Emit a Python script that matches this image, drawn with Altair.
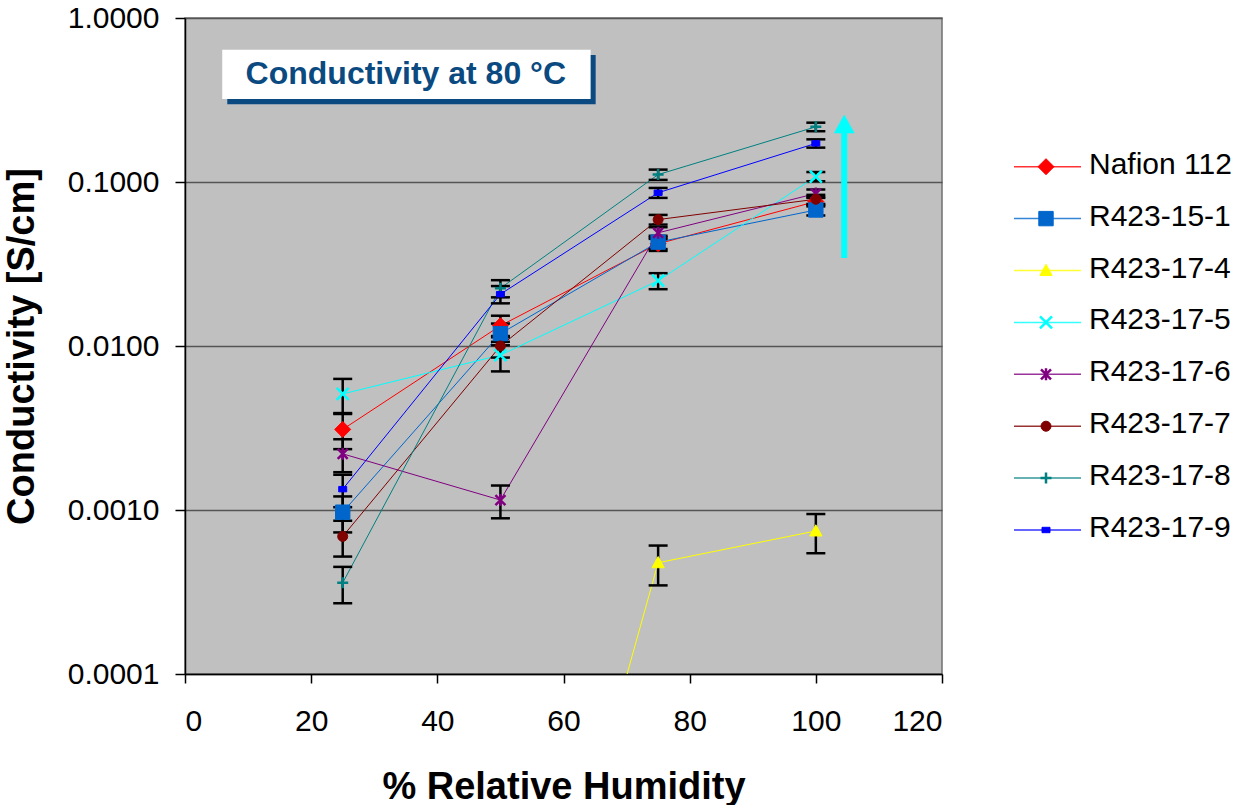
import altair as alt
import pandas as pd

FONT = "Liberation Sans"

# Relative humidity set points (%)
humidity = [25, 50, 75, 100]

series_names = ["Nafion 112", "R423-15-1", "R423-17-4", "R423-17-5",
                "R423-17-6", "R423-17-7", "R423-17-8", "R423-17-9"]
series_colors = ["#FF0000", "#0066CC", "#FFFF00", "#00FFFF",
                 "#800080", "#800000", "#008080", "#0000FF"]

# Conductivity at 80 °C (S/cm), one value per humidity set point
nafion_112 = [0.0031, 0.0133, 0.042, 0.076]
r423_15_1 = [0.00097, 0.0119, 0.043, 0.0675]
r423_17_4 = [None, 1.7e-7, 0.000477, 0.000745]
r423_17_5 = [0.0051, 0.0088, 0.025, 0.108]
r423_17_6 = [0.0022, 0.00115, 0.049, 0.085]
r423_17_7 = [0.00069, 0.0100, 0.059, 0.0785]
r423_17_8 = [0.00036, 0.0225, 0.111, 0.217]
r423_17_9 = [0.00134, 0.0207, 0.086, 0.172]

# Standard deviation of each measurement (S/cm)
err_nafion_112 = [0.00075, 0.0020, 0.0040, 0.0050]
err_r423_15_1 = [0.00024, 0.0018, 0.0040, 0.0050]
err_r423_17_4 = [None, None, 0.00013, 0.00020]
err_r423_17_5 = [0.0012, 0.0018, 0.0028, 0.0070]
err_r423_17_6 = [0.0005, 0.00026, 0.0040, 0.0050]
err_r423_17_7 = [0.00017, 0.0015, 0.0040, 0.0050]
err_r423_17_8 = [0.00009, 0.0027, 0.0080, 0.0130]
err_r423_17_9 = [0.0003, 0.0025, 0.0060, 0.0100]

values = [nafion_112, r423_15_1, r423_17_4, r423_17_5,
          r423_17_6, r423_17_7, r423_17_8, r423_17_9]
errors = [err_nafion_112, err_r423_15_1, err_r423_17_4, err_r423_17_5,
          err_r423_17_6, err_r423_17_7, err_r423_17_8, err_r423_17_9]

# Marker glyphs (unit = 10 px at size 400) and their stroke widths
marker_paths = [
    ("M0,-0.8L0.8,0L0,0.8L-0.8,0Z", 1),
    ("M-0.72,-0.72H0.72V0.72H-0.72Z", 1),
    ("M0,-0.62L0.62,0.5L-0.62,0.5Z", 1),
    ("M-0.6,-0.6L0.6,0.6M-0.6,0.6L0.6,-0.6", 2.5),
    ("M-0.5,-0.5L0.5,0.5M-0.5,0.5L0.5,-0.5M0,-0.6L0,0.6", 2.5),
    ("M-0.5,0A0.5,0.5 0 1,0 0.5,0A0.5,0.5 0 1,0 -0.5,0Z", 1),
    ("M-0.55,0L0.55,0M0,-0.55L0,0.55", 2.5),
    ("M-0.4,-0.27H0.4V0.27H-0.4Z", 1),
]

# Annotation: upward arrow and the boxed heading
arrow_rh = [104.5]
arrow_from = [0.0344]
arrow_base = [0.200]
arrow_tip = [0.256]

heading_text = ["Conductivity at 80 °C"]
heading_rh = [5.9, 64.3, 35.0]          # box left, box right, text centre
heading_cond = [0.64, 0.321, 0.455]     # box top, box bottom, text centre
shadow_rh = [6.7, 65.1]
shadow_cond = [0.595, 0.298]

rows, err_rows = [], []
for name, vals, errs in zip(series_names, values, errors):
    for rh, v, e in zip(humidity, vals, errs):
        if v is None:
            continue
        rows.append({"series": name, "rh": rh, "value": v})
        if e is not None:
            err_rows.append({"series": name, "rh": rh, "lo": v - e, "hi": v + e})
data = pd.DataFrame(rows)
err_data = pd.DataFrame(err_rows)

x_scale = alt.Scale(domain=[0, 120], nice=False)
y_scale = alt.Scale(type="log", domain=[0.0001, 1], nice=False)
color_scale = alt.Scale(domain=series_names, range=series_colors)

x_axis = alt.Axis(
    title="% Relative Humidity", values=[0, 20, 40, 60, 80, 100, 120],
    grid=False, tickSize=9, tickWidth=1.5, tickColor="black",
    domainColor="black", domainWidth=1.5, labelFontSize=30, labelColor="black",
    labelPadding=23, titleFontSize=38, titleFontWeight="bold", titleColor="black",
    titlePadding=32, labelFont=FONT, titleFont=FONT,
)
y_axis = alt.Axis(
    title="Conductivity [S/cm]", values=[0.0001, 0.001, 0.01, 0.1, 1], format=".4f",
    grid=True, gridColor="#555555", gridWidth=1.5, tickSize=10, tickWidth=1.5,
    tickColor="black", domainColor="black", domainWidth=1.5, labelFontSize=30,
    labelColor="black", labelPadding=16, titleFontSize=38, titleFontWeight="bold",
    titleColor="black", titlePadding=26, labelFont=FONT, titleFont=FONT,
)

X = alt.X("rh:Q", scale=x_scale, axis=x_axis)
Y = alt.Y("value:Q", scale=y_scale, axis=y_axis)

lines = alt.Chart(data).mark_line(strokeWidth=1, clip=True).encode(
    x=X, y=Y,
    color=alt.Color("series:N", scale=color_scale, legend=None),
    order="rh:Q",
)

err_rule = alt.Chart(err_data).mark_rule(color="black", strokeWidth=2.5, clip=True).encode(
    x=alt.X("rh:Q", scale=x_scale),
    y=alt.Y("lo:Q", scale=y_scale),
    y2="hi:Q",
)
err_caps = alt.Chart(err_data).transform_fold(["lo", "hi"], as_=["end", "cap"]).mark_tick(
    color="black", thickness=2.5, size=19, orient="horizontal", clip=True, opacity=1
).encode(
    x=alt.X("rh:Q", scale=x_scale),
    y=alt.Y("cap:Q", scale=y_scale),
)

point_layers = []
for name, color, (path, sw) in zip(series_names, series_colors, marker_paths):
    point_layers.append(
        alt.Chart(data).transform_filter(alt.datum.series == name).mark_point(
            shape=path, size=400, filled=True, fill=color, stroke=color,
            strokeWidth=sw, opacity=1, clip=True,
        ).encode(x=X, y=Y)
    )

arrow_df = pd.DataFrame({"rh": arrow_rh, "start": arrow_from, "base": arrow_base, "tip": arrow_tip})
arrow_shaft = alt.Chart(arrow_df).mark_rule(color="#00FFFF", strokeWidth=6).encode(
    x=alt.X("rh:Q", scale=x_scale), y=alt.Y("start:Q", scale=y_scale), y2="base:Q",
)
arrow_head = alt.Chart(arrow_df).mark_point(
    shape="M0,0L1,1.8L-1,1.8Z", size=400, filled=True, fill="#00FFFF", stroke="#00FFFF",
    strokeWidth=0.5, opacity=1,
).encode(x=alt.X("rh:Q", scale=x_scale), y=alt.Y("tip:Q", scale=y_scale))

heading_df = pd.DataFrame({
    "x0": [heading_rh[0]], "x1": [heading_rh[1]], "xc": [heading_rh[2]],
    "y0": [heading_cond[0]], "y1": [heading_cond[1]], "yc": [heading_cond[2]],
    "sx0": [shadow_rh[0]], "sx1": [shadow_rh[1]],
    "sy0": [shadow_cond[0]], "sy1": [shadow_cond[1]],
    "text": heading_text,
})
shadow = alt.Chart(heading_df).mark_rect(color="#0B4A80").encode(
    x=alt.X("sx0:Q", scale=x_scale), x2="sx1:Q",
    y=alt.Y("sy0:Q", scale=y_scale), y2="sy1:Q",
)
box = alt.Chart(heading_df).mark_rect(color="white").encode(
    x=alt.X("x0:Q", scale=x_scale), x2="x1:Q",
    y=alt.Y("y0:Q", scale=y_scale), y2="y1:Q",
)
heading = alt.Chart(heading_df).mark_text(
    font=FONT, fontSize=32, fontWeight="bold", color="#0B4A80", baseline="middle", align="center",
).encode(
    x=alt.X("xc:Q", scale=x_scale), y=alt.Y("yc:Q", scale=y_scale), text="text:N",
)

main = alt.layer(
    lines, err_rule, err_caps, *point_layers,
    arrow_shaft, arrow_head, shadow, box, heading,
)

# Series key to the right of the plot: a line sample, the marker, then the name
key_df = pd.DataFrame({"series": series_names, "k0": 0, "k1": 67, "km": 32, "kt": 75})
key_x = alt.Scale(domain=[0, 75], range=[829, 904])
key_y = alt.Scale(type="point", domain=series_names, range=[148.7, 512], padding=0)
KY = alt.Y("series:N", scale=key_y, axis=None)

key_lines = alt.Chart(key_df).mark_rule(strokeWidth=1.5, opacity=0.8).encode(
    x=alt.X("k0:Q", scale=key_x, axis=None), x2="k1:Q", y=KY,
    color=alt.Color("series:N", scale=color_scale, legend=None),
)
key_marks = []
for name, color, (path, sw) in zip(series_names, series_colors, marker_paths):
    key_marks.append(
        alt.Chart(key_df).transform_filter(alt.datum.series == name).mark_point(
            shape=path, size=400, filled=True, fill=color, stroke=color,
            strokeWidth=sw, opacity=1,
        ).encode(x=alt.X("km:Q", scale=key_x, axis=None), y=KY)
    )
key_labels = alt.Chart(key_df).mark_text(
    font=FONT, fontSize=30, color="black", align="left", baseline="middle", dy=-2,
).encode(x=alt.X("kt:Q", scale=key_x, axis=None), y=KY, text="series:N")

key = alt.layer(key_lines, *key_marks, key_labels)

chart = alt.layer(main, key).resolve_scale(
    x="independent", y="independent",
).properties(
    width=757, height=656,
    autosize=alt.AutoSizeParams(type="none"),
    padding={"left": 185, "top": 18, "right": 295, "bottom": 131},
    background="white",
    view=alt.ViewBackground(fill="#C0C0C0", stroke="#707070", strokeWidth=1.5),
).configure(font=FONT)

chart.save("out.html", embed_options={"renderer": "svg", "actions": False})
